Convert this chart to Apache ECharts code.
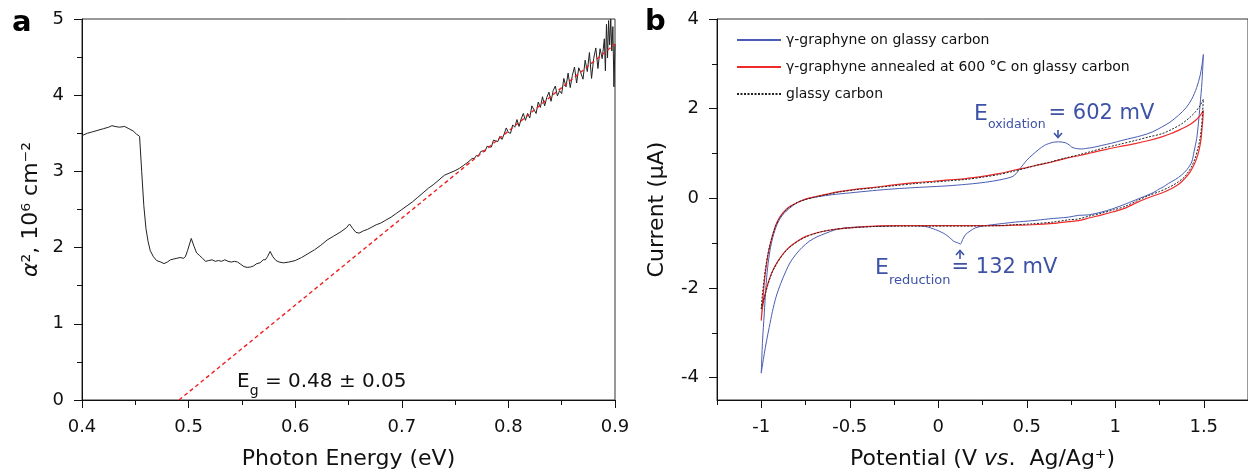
<!DOCTYPE html>
<html>
<head>
<meta charset="utf-8">
<script src="https://cdn.jsdelivr.net/npm/echarts@6/dist/echarts.min.js"></script>
<style>html,body{margin:0;padding:0;background:#fff}#c{width:1248px;height:475px}</style>
</head>
<body>
<div id="c"></div>
<script>
// ---------- Panel a: absorption (alpha^2) vs photon energy ----------
const energy = [
0.400,0.405,0.410,0.415,0.420,0.425,0.428,0.431,0.435,0.440,0.444,0.448,0.451,0.454,0.456,0.458,0.460,0.462,0.464,0.467,
0.470,0.474,0.477,0.480,0.483,0.486,0.489,0.492,0.495,0.497,0.499,0.5025,0.505,0.5075,0.510,0.513,0.516,0.519,0.522,0.525,
0.528,0.531,0.534,0.537,0.540,0.543,0.546,0.549,0.552,0.555,0.558,0.561,0.564,0.567,0.570,0.572,0.574,0.5765,0.579,0.582,
0.585,0.589,0.594,0.600,0.606,0.612,0.618,0.624,0.630,0.636,0.642,0.648,0.651,0.654,0.657,0.660,0.664,0.668,0.672,0.676,
0.680,0.685,0.690,0.695,0.700,0.705,0.710,0.715,0.720,0.725,0.730,0.735,0.740,0.745,0.750,0.754,0.758,0.762,0.766,
0.768,0.770,0.772,0.774,0.776,0.778,0.780,0.782,0.784,0.786,0.788,0.790,0.792,0.794,0.796,0.798,0.800,0.802,0.804,0.806,
0.808,0.810,0.812,0.814,0.816,0.818,0.820,0.822,0.824,0.826,0.828,0.830,0.832,0.834,0.836,0.838,0.840,0.842,0.844,0.846,
0.848,0.850,0.852,0.854,0.856,0.858,0.860,0.862,0.864,0.866,0.868,0.870,0.872,0.874,0.876,0.878,0.880,0.882,0.884,0.886,
0.888,0.890,0.891,0.892,0.893,0.894,0.895,0.896,0.897,0.898,0.899,0.900];
const alphaSq = [
3.47,3.50,3.52,3.54,3.56,3.58,3.60,3.59,3.58,3.59,3.56,3.53,3.49,3.46,3.00,2.55,2.25,2.08,1.96,1.88,
1.83,1.81,1.79,1.81,1.84,1.85,1.86,1.87,1.86,1.88,1.96,2.12,2.02,1.93,1.90,1.86,1.82,1.83,1.84,1.82,
1.83,1.82,1.84,1.82,1.81,1.82,1.81,1.78,1.75,1.74,1.745,1.76,1.79,1.80,1.84,1.84,1.88,1.95,1.88,1.83,
1.81,1.80,1.81,1.83,1.87,1.92,1.97,2.03,2.10,2.15,2.20,2.26,2.31,2.25,2.20,2.19,2.22,2.24,2.27,2.30,
2.32,2.36,2.40,2.45,2.50,2.55,2.60,2.66,2.72,2.78,2.83,2.89,2.95,2.98,3.01,3.04,3.08,3.12,3.17,
3.17,3.21,3.20,3.26,3.27,3.26,3.33,3.32,3.32,3.41,3.40,3.39,3.46,3.42,3.49,3.57,3.51,3.50,3.61,3.58,
3.68,3.59,3.69,3.76,3.67,3.76,3.70,3.86,3.81,3.76,3.91,3.84,3.98,3.86,3.97,4.04,3.92,4.06,4.12,3.99,
4.06,4.02,4.22,4.11,4.29,4.10,4.26,4.37,4.16,4.36,4.29,4.21,4.46,4.31,4.56,4.22,4.48,4.62,4.35,4.61,
4.48,4.74,4.32,4.93,4.49,4.98,4.66,5.00,4.58,4.90,4.11,4.67];
// linear (Tauc) fit extrapolated to zero
const fitEnergy = [0.491, 0.900];
const fitAlphaSq = [0.00, 4.67];

// ---------- Panel b: cyclic voltammograms (potential V, current uA) ----------
const names = ['\u03b3-graphyne on glassy carbon', '\u03b3-graphyne annealed at 600 \u00b0C on glassy carbon', 'glassy carbon'];
const blueAnodic = [[-1.0,-3.90],[-0.993,-3.2],[-0.983,-2.58],[-0.974,-2.0],[-0.964,-1.55],[-0.95,-1.15],[-0.936,-0.89],[-0.92,-0.68],[-0.907,-0.55],[-0.885,-0.40],[-0.86,-0.29],[-0.82,-0.16],[-0.785,-0.07],[-0.73,0.0],[-0.673,0.04],[-0.6,0.08],[-0.5,0.12],[-0.372,0.17],[-0.25,0.21],[-0.127,0.24],[-0.03,0.26],[0.06,0.28],[0.154,0.31],[0.23,0.34],[0.305,0.38],[0.37,0.43],[0.417,0.48],[0.44,0.55],[0.455,0.63],[0.48,0.75],[0.50,0.85],[0.535,0.98],[0.568,1.09],[0.60,1.18],[0.624,1.22],[0.65,1.25],[0.68,1.26],[0.718,1.24],[0.74,1.19],[0.755,1.14],[0.78,1.11],[0.81,1.10],[0.831,1.11],[0.88,1.14],[0.924,1.18],[0.98,1.23],[1.037,1.29],[1.10,1.35],[1.15,1.40],[1.21,1.48],[1.263,1.59],[1.31,1.70],[1.357,1.85],[1.40,2.02],[1.432,2.21],[1.46,2.47],[1.479,2.73],[1.49,2.97],[1.498,3.21]];
const blueCathodic = [[1.49,2.6],[1.479,2.07],[1.47,1.68],[1.46,1.33],[1.445,1.04],[1.432,0.81],[1.405,0.64],[1.375,0.52],[1.34,0.42],[1.30,0.33],[1.27,0.25],[1.24,0.19],[1.235,0.17],[1.2,0.1],[1.113,-0.04],[1.05,-0.14],[0.981,-0.24],[0.92,-0.31],[0.85,-0.37],[0.793,-0.38],[0.737,-0.42],[0.68,-0.44],[0.624,-0.46],[0.53,-0.50],[0.436,-0.53],[0.37,-0.56],[0.305,-0.59],[0.25,-0.62],[0.21,-0.66],[0.18,-0.73],[0.154,-0.81],[0.138,-0.92],[0.125,-1.02],[0.108,-0.99],[0.088,-0.96],[0.065,-0.88],[0.042,-0.81],[0.015,-0.75],[-0.015,-0.70],[-0.071,-0.63],[-0.15,-0.61],[-0.22,-0.61],[-0.3,-0.62],[-0.372,-0.63],[-0.45,-0.64],[-0.522,-0.66],[-0.58,-0.70],[-0.635,-0.78],[-0.685,-0.86],[-0.729,-0.96],[-0.77,-1.10],[-0.804,-1.25],[-0.835,-1.42],[-0.86,-1.62],[-0.89,-1.90],[-0.917,-2.21],[-0.937,-2.53],[-0.955,-2.88],[-0.97,-3.18],[-0.983,-3.47],[-0.993,-3.72],[-1.0,-3.90]];
const redAnodic = [[-1.0,-2.73],[-0.995,-2.45],[-0.99,-2.21],[-0.982,-1.85],[-0.973,-1.55],[-0.96,-1.22],[-0.945,-0.96],[-0.93,-0.75],[-0.917,-0.59],[-0.9,-0.45],[-0.879,-0.33],[-0.845,-0.20],[-0.804,-0.11],[-0.75,-0.02],[-0.69,0.04],[-0.62,0.10],[-0.56,0.15],[-0.47,0.20],[-0.372,0.24],[-0.25,0.30],[-0.127,0.35],[-0.03,0.38],[0.06,0.41],[0.154,0.44],[0.25,0.49],[0.342,0.55],[0.42,0.62],[0.492,0.68],[0.57,0.75],[0.643,0.81],[0.72,0.89],[0.793,0.95],[0.86,1.01],[0.924,1.07],[1.02,1.15],[1.113,1.22],[1.19,1.29],[1.263,1.37],[1.32,1.45],[1.375,1.55],[1.42,1.64],[1.451,1.73],[1.478,1.84],[1.498,1.96]];
const redCathodic = [[1.495,1.77],[1.49,1.55],[1.485,1.33],[1.475,1.10],[1.46,0.89],[1.443,0.73],[1.423,0.59],[1.40,0.47],[1.375,0.37],[1.35,0.29],[1.319,0.22],[1.27,0.13],[1.206,0.04],[1.13,-0.08],[1.056,-0.22],[0.99,-0.30],[0.924,-0.37],[0.85,-0.44],[0.793,-0.50],[0.737,-0.52],[0.65,-0.56],[0.53,-0.59],[0.43,-0.60],[0.342,-0.61],[0.15,-0.61],[-0.03,-0.61],[-0.22,-0.61],[-0.36,-0.62],[-0.504,-0.66],[-0.58,-0.69],[-0.654,-0.74],[-0.705,-0.79],[-0.748,-0.85],[-0.79,-0.94],[-0.823,-1.03],[-0.852,-1.13],[-0.879,-1.25],[-0.91,-1.43],[-0.936,-1.62],[-0.952,-1.78],[-0.964,-1.92],[-0.978,-2.13],[-0.99,-2.36],[-0.996,-2.55],[-1.0,-2.73]];
const gcAnodic = [[-1.0,-2.47],[-0.995,-2.2],[-0.988,-1.95],[-0.978,-1.62],[-0.965,-1.30],[-0.95,-1.02],[-0.935,-0.80],[-0.92,-0.63],[-0.9,-0.47],[-0.879,-0.35],[-0.845,-0.21],[-0.804,-0.11],[-0.75,-0.03],[-0.69,0.03],[-0.62,0.09],[-0.56,0.14],[-0.47,0.19],[-0.372,0.23],[-0.25,0.28],[-0.127,0.33],[-0.03,0.36],[0.06,0.39],[0.154,0.42],[0.25,0.47],[0.342,0.53],[0.42,0.60],[0.492,0.67],[0.57,0.75],[0.643,0.82],[0.72,0.90],[0.793,0.97],[0.86,1.04],[0.924,1.11],[1.02,1.20],[1.113,1.29],[1.19,1.37],[1.263,1.44],[1.32,1.54],[1.375,1.66],[1.42,1.80],[1.451,1.92],[1.478,2.06],[1.498,2.21]];
const gcCathodic = [[1.494,1.95],[1.488,1.62],[1.479,1.33],[1.466,1.10],[1.451,0.89],[1.433,0.72],[1.413,0.59],[1.39,0.47],[1.357,0.37],[1.33,0.30],[1.30,0.24],[1.25,0.15],[1.187,0.06],[1.12,-0.06],[1.056,-0.18],[0.99,-0.26],[0.924,-0.33],[0.85,-0.40],[0.793,-0.46],[0.737,-0.48],[0.65,-0.53],[0.53,-0.57],[0.43,-0.59],[0.342,-0.61],[0.15,-0.62],[-0.03,-0.62],[-0.22,-0.62],[-0.36,-0.63],[-0.504,-0.66],[-0.58,-0.69],[-0.654,-0.74],[-0.705,-0.80],[-0.748,-0.86],[-0.79,-0.95],[-0.823,-1.04],[-0.852,-1.14],[-0.879,-1.26],[-0.91,-1.44],[-0.936,-1.63],[-0.952,-1.80],[-0.964,-1.95],[-0.978,-2.15],[-0.99,-2.32],[-1.0,-2.47]];

const xTicksMajorB = [-1, -0.5, 0, 0.5, 1, 1.5];
const xTicksMinorB = [-1.25, -0.75, -0.25, 0.25, 0.75, 1.25];
const yTicksMajorB = [-4, -2, 0, 2, 4];
const yTicksMinorB = [-3, -1, 1, 3];

const FONT = '"DejaVu Sans", "Liberation Sans", Arial, sans-serif';
const TXT = '#111';
const BLUE = '#4a5db3';
const RED = '#ee2a2a';
const ANNO = '#3d52a6';

const chart = echarts.init(document.getElementById('c'), null, {renderer: 'canvas'});

const axisCommon = {
  axisLine: {show: true, onZero: false, lineStyle: {color: '#111', width: 1}},
  axisLabel: {fontFamily: FONT, fontSize: 18, color: TXT, margin: 18},
  splitLine: {show: false},
  nameTextStyle: {fontFamily: FONT, fontSize: 22, color: TXT}
};

const option = {
  animation: false,
  backgroundColor: '#fff',
  grid: [
    {left: 82, top: 19, width: 533, height: 384, show: true, borderColor: '#333', borderWidth: 1, containLabel: false},
    {left: 717, top: 19, width: 532, height: 384, show: true, borderColor: '#333', borderWidth: 1, containLabel: false}
  ],
  legend: {
    show: true, orient: 'vertical', left: 731, top: 28,
    itemWidth: 44, itemHeight: 12, itemGap: 13,
    itemStyle: {opacity: 0},
    textStyle: {fontFamily: FONT, fontSize: 14, color: TXT, padding: [0, 0, 0, 0]},
    data: names
  },
  xAxis: [
    Object.assign({}, axisCommon, {
      gridIndex: 0, type: 'value', min: 0.4, max: 0.9, interval: 0.1, position: 'bottom',
      axisTick: {show: true, inside: false, length: 8, lineStyle: {color: '#111'}},
      minorTick: {show: true, splitNumber: 2, length: 5, lineStyle: {color: '#111'}},
      axisLabel: Object.assign({}, axisCommon.axisLabel, {formatter: v => v.toFixed(1)}),
      name: 'Photon Energy (eV)', nameLocation: 'middle', nameGap: 48
    }),
    Object.assign({}, axisCommon, {
      gridIndex: 1, type: 'value', min: -1.25, max: 1.75, position: 'bottom',
      axisTick: {show: true, length: 8, customValues: xTicksMajorB, lineStyle: {color: '#111'}},
      axisLabel: Object.assign({}, axisCommon.axisLabel, {customValues: xTicksMajorB}),
      name: 'Potential (V {i|vs}.  Ag/Ag\u207a)', nameLocation: 'middle', nameGap: 48,
      nameTextStyle: {fontFamily: FONT, fontSize: 22, color: TXT,
        rich: {i: {fontFamily: FONT, fontSize: 22, color: TXT, fontStyle: 'italic'}}}
    }),
    {
      gridIndex: 1, type: 'value', min: -1.25, max: 1.75, position: 'bottom', offset: 0,
      axisLine: {show: false, onZero: false}, splitLine: {show: false}, axisLabel: {show: false},
      axisTick: {show: true, length: 5, customValues: xTicksMinorB, lineStyle: {color: '#111'}}
    }
  ],
  yAxis: [
    Object.assign({}, axisCommon, {
      gridIndex: 0, type: 'value', min: 0, max: 5, interval: 1, position: 'left',
      axisTick: {show: true, length: 8, lineStyle: {color: '#111'}},
      minorTick: {show: true, splitNumber: 2, length: 5, lineStyle: {color: '#111'}},
      name: '{i|\u03b1}\u00b2, 10\u2076 cm\u207b\u00b2', nameLocation: 'middle', nameGap: 40, nameRotate: 90,
      nameTextStyle: {fontFamily: FONT, fontSize: 22, color: TXT,
        rich: {i: {fontFamily: FONT, fontSize: 22, color: TXT, fontStyle: 'italic'}}}
    }),
    Object.assign({}, axisCommon, {
      gridIndex: 1, type: 'value', min: -4.5, max: 4, position: 'left',
      axisTick: {show: true, length: 8, customValues: yTicksMajorB, lineStyle: {color: '#111'}},
      axisLabel: Object.assign({}, axisCommon.axisLabel, {customValues: yTicksMajorB}),
      name: 'Current (\u03bcA)', nameLocation: 'middle', nameGap: 49, nameRotate: 90
    }),
    {
      gridIndex: 1, type: 'value', min: -4.5, max: 4, position: 'left', offset: 0,
      axisLine: {show: false, onZero: false}, splitLine: {show: false}, axisLabel: {show: false},
      axisTick: {show: true, length: 5, customValues: yTicksMinorB, lineStyle: {color: '#111'}}
    }
  ],
  series: [
    {
      type: 'line', xAxisIndex: 0, yAxisIndex: 0, symbol: 'none', smooth: false,
      data: energy.map((e, i) => [e, alphaSq[i]]),
      lineStyle: {color: '#222', width: 1}, z: 2
    },
    {
      type: 'line', xAxisIndex: 0, yAxisIndex: 0, symbol: 'none',
      data: fitEnergy.map((e, i) => [e, fitAlphaSq[i]]),
      lineStyle: {color: '#f02020', width: 1.4, type: [4, 3]}, z: 3
    },
    {
      name: names[0], type: 'line', xAxisIndex: 1, yAxisIndex: 1, symbol: 'none', smooth: 0.3,
      data: blueAnodic.concat(blueCathodic),
      lineStyle: {color: BLUE, width: 1}, itemStyle: {color: BLUE}, z: 2
    },
    {
      name: names[1], type: 'line', xAxisIndex: 1, yAxisIndex: 1, symbol: 'none', smooth: 0.3,
      data: redAnodic.concat(redCathodic),
      lineStyle: {color: RED, width: 1.2}, itemStyle: {color: RED}, z: 3
    },
    {
      name: names[2], type: 'line', xAxisIndex: 1, yAxisIndex: 1, symbol: 'none', smooth: 0.3,
      data: gcAnodic.concat(gcCathodic),
      lineStyle: {color: '#222', width: 1, type: [2, 1.5]}, itemStyle: {color: '#222'}, z: 4
    }
  ],
  graphic: [
    {type: 'text', left: 12, top: 9, style: {text: 'a', font: 'bold 29px ' + FONT, fill: '#000'}},
    {type: 'text', left: 645, top: 8, style: {text: 'b', font: 'bold 29px ' + FONT, fill: '#000'}},
    {type: 'text', x: 237, y: 372, style: {
      text: '{e|E}{s|g}{t| = 0.48 \u00b1 0.05}', fill: TXT, verticalAlign: 'top',
      rich: {
        e: {fontFamily: FONT, fontSize: 20, lineHeight: 20, fill: TXT, verticalAlign: 'top'},
        s: {fontFamily: FONT, fontSize: 14, lineHeight: 14, fill: TXT, verticalAlign: 'top', padding: [12, 0, 0, 0]},
        t: {fontFamily: FONT, fontSize: 20, lineHeight: 20, fill: TXT, verticalAlign: 'top'}
      }}},
    {type: 'text', x: 974, y: 103, style: {
      text: '{e|E}{s|oxidation}{t|= 602 mV}', fill: ANNO, verticalAlign: 'top',
      rich: {
        e: {fontFamily: FONT, fontSize: 22, lineHeight: 22, fill: ANNO, verticalAlign: 'top'},
        s: {fontFamily: FONT, fontSize: 12.5, lineHeight: 13, fill: ANNO, verticalAlign: 'top', padding: [15, 0, 0, 0]},
        t: {fontFamily: FONT, fontSize: 21, lineHeight: 22, fill: ANNO, verticalAlign: 'top', padding: [0, 0, 0, 3]}
      }}},
    {type: 'text', x: 875, y: 257, style: {
      text: '{e|E}{s|reduction}{t|= 132 mV}', fill: ANNO, verticalAlign: 'top',
      rich: {
        e: {fontFamily: FONT, fontSize: 22, lineHeight: 22, fill: ANNO, verticalAlign: 'top'},
        s: {fontFamily: FONT, fontSize: 13, lineHeight: 13, fill: ANNO, verticalAlign: 'top', padding: [17, 0, 0, 0]},
        t: {fontFamily: FONT, fontSize: 21, lineHeight: 22, fill: ANNO, verticalAlign: 'top', padding: [0, 0, 0, 1]}
      }}},
    // arrows
    {type: 'group', children: [
      {type: 'line', shape: {x1: 1058, y1: 130, x2: 1058, y2: 137}, style: {stroke: ANNO, lineWidth: 1.6}},
      {type: 'polyline', shape: {points: [[1054, 133], [1058, 137.5], [1062, 133]]}, style: {stroke: ANNO, lineWidth: 1.6, fill: null}}
    ]},
    {type: 'group', children: [
      {type: 'line', shape: {x1: 960, y1: 251, x2: 960, y2: 259}, style: {stroke: ANNO, lineWidth: 1.6}},
      {type: 'polyline', shape: {points: [[956, 255], [960, 250.5], [964, 255]]}, style: {stroke: ANNO, lineWidth: 1.6, fill: null}}
    ]}
  ]
};
chart.setOption(option);
</script>
</body>
</html>
